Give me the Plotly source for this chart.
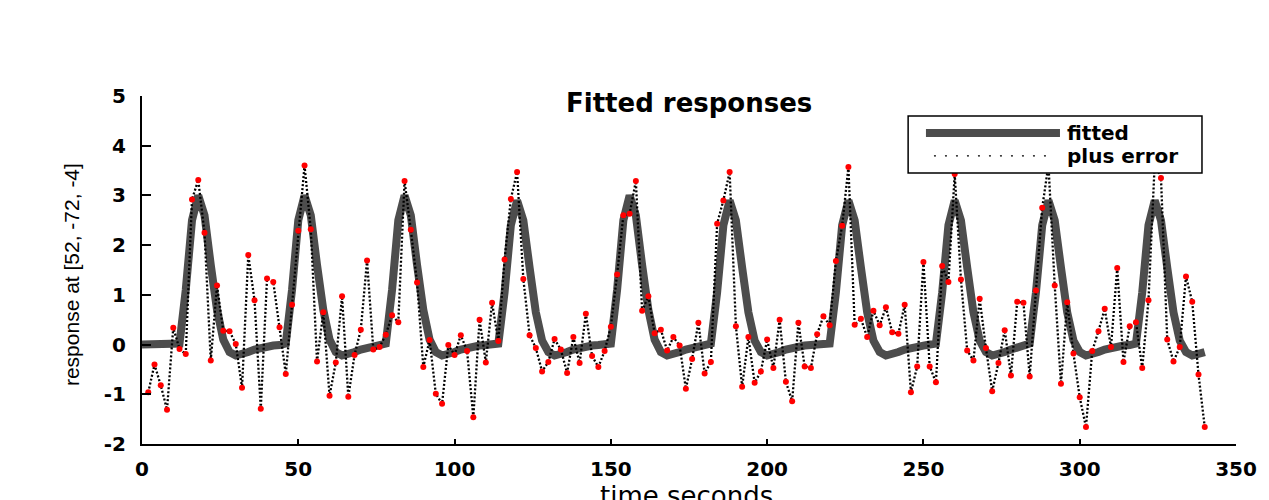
import plotly.graph_objects as go

# ---------------- data ----------------
fit_times = list(range(0, 342, 2))      # seconds
scan_times = list(range(2, 342, 2))     # seconds

fitted = [
    0, 0, 0, 0, 0, 0,
    0.02, 1.1, 2.5, 3.0, 2.6, 1.6, 0.7, 0.1,
    -0.15, -0.22, -0.2, -0.15, -0.1, -0.06, -0.03, -0.02, -0.01,
    0.02, 1.1, 2.5, 3.0, 2.6, 1.6, 0.7, 0.1,
    -0.15, -0.22, -0.2, -0.15, -0.1, -0.06, -0.04, -0.02,
    0.02, 1.1, 2.5, 3.0, 2.6, 1.6, 0.7, 0.1,
    -0.15, -0.22, -0.2, -0.15, -0.1, -0.06, -0.04, -0.02, -0.01, 0.0,
    0.02, 1.05, 2.4, 2.9, 2.5, 1.55, 0.65, 0.08,
    -0.15, -0.22, -0.2, -0.15, -0.1, -0.06, -0.04, -0.02, -0.01, 0.0,
    0.02, 1.1, 2.5, 3.0, 2.6, 1.6, 0.7, 0.1,
    -0.15, -0.22, -0.2, -0.15, -0.1, -0.06, -0.04, -0.02,
    0.02, 1.05, 2.4, 2.9, 2.5, 1.55, 0.65, 0.08,
    -0.15, -0.22, -0.2, -0.15, -0.1, -0.06, -0.04, -0.02, -0.01, 0.0, 0.0,
    0.02, 1.05, 2.4, 2.9, 2.5, 1.55, 0.65, 0.08,
    -0.15, -0.22, -0.2, -0.15, -0.1, -0.06, -0.04, -0.02, 0.0,
    0.02, 1.05, 2.4, 2.9, 2.5, 1.55, 0.65, 0.08,
    -0.15, -0.22, -0.2, -0.15, -0.1, -0.06, -0.04,
    0.02, 1.05, 2.4, 2.9, 2.5, 1.55, 0.65, 0.08,
    -0.15, -0.22, -0.2, -0.15, -0.1, -0.06, -0.04, -0.02, -0.01,
    0.02, 1.05, 2.4, 2.9, 2.5, 1.55, 0.65, 0.08,
    -0.15, -0.22, -0.2, -0.15,
]

observed = [
    -0.96, -0.40, -0.82, -1.31, 0.34, -0.09, -0.19, 2.92, 3.31, 2.25,      # 2-20
    -0.32, 1.19, 0.28, 0.27, 0.01, -0.87, 1.80, 0.89, -1.29, 1.33,         # 22-40
    1.26, 0.35, -0.59, 0.80, 2.29, 3.60, 2.32, -0.34, 0.65, -1.03,         # 42-60
    -0.36, 0.97, -1.05, -0.21, 0.30, 1.69, -0.10, -0.05, 0.20, 0.59,       # 62-80
    0.45, 3.29, 2.31, 1.25, -0.45, 0.09, -0.99, -1.19, -0.01, -0.21,       # 82-100
    0.19, -0.13, -1.46, 0.50, -0.36, 0.84, 0.07, 1.71, 2.93, 3.47,         # 102-120
    1.32, 0.19, -0.07, -0.54, -0.35, 0.11, -0.10, -0.57, 0.15, -0.37,      # 122-140
    0.62, -0.23, -0.45, -0.13, 0.36, 1.41, 2.60, 2.63, 3.29, 0.68,         # 142-160
    0.97, 0.23, 0.30, -0.12, 0.15, -0.02, -0.89, -0.29, 0.44, -0.58,       # 162-180
    -0.35, 2.43, 2.90, 3.47, 0.37, -0.85, 0.15, -0.77, -0.54, 0.10,        # 182-200
    -0.47, 0.50, -0.75, -1.14, 0.44, -0.44, -0.47, 0.21, 0.57, 0.39,       # 202-220
    1.68, 2.39, 3.57, 0.40, 0.52, 0.15, 0.68, 0.39, 0.75, 0.25,            # 222-240
    0.22, 0.80, -0.96, -0.44, 1.66, -0.44, -0.76, 1.58, 1.26, 3.43,        # 242-260
    1.31, -0.12, -0.32, 0.92, -0.07, -0.94, -0.37, 0.29, -0.62, 0.86,      # 262-280
    0.84, -0.64, 1.09, 2.75, 3.62, 1.19, -0.79, 0.85, -0.18, -1.06,        # 282-300
    -1.66, -0.13, 0.27, 0.72, -0.05, 1.54, -0.35, 0.37, 0.45, -0.47,       # 302-320
    0.89, 3.65, 3.35, 0.10, -0.34, -0.05, 1.37, 0.86, -0.60, -1.66,        # 322-340
]

x_tick_vals = [0, 50, 100, 150, 200, 250, 300, 350]
x_tick_text = ["0", "50", "100", "150", "200", "250", "300", "350"]
y_tick_vals = [-2, -1, 0, 1, 2, 3, 4, 5]
y_tick_text = ["-2", "-1", "0", "1", "2", "3", "4", "5"]

legend_labels = ["fitted", "plus error"]

# ---------------- figure ----------------
FIT_COLOR = "#4d4d4d"

fig = go.Figure()
fig.add_trace(go.Scatter(
    x=fit_times, y=fitted, mode="lines", name=legend_labels[0],
    line=dict(color=FIT_COLOR, width=8), showlegend=False, hoverinfo="skip"))
fig.add_trace(go.Scatter(
    x=scan_times, y=observed, mode="lines", name=legend_labels[1],
    line=dict(color="black", width=2.3, dash="2px,2px"), showlegend=False))
fig.add_trace(go.Scatter(
    x=scan_times, y=observed, mode="markers", name="data",
    marker=dict(color="#ff0000", size=6), showlegend=False))

tick_font = dict(family="DejaVu Sans", size=20, color="black", weight="bold")

# page body has an 8px default margin: size the figure so its plot area
# lands where the reference axes are
fig.update_layout(
    width=1261, height=492,
    margin=dict(l=134, r=25, t=88, b=56),
    paper_bgcolor="white", plot_bgcolor="white",
    xaxis=dict(range=[0, 350], showline=True, linecolor="black", linewidth=2,
               ticks="inside", ticklen=5, tickwidth=1.5, tickcolor="black",
               tickvals=x_tick_vals, ticktext=x_tick_text, tickfont=tick_font,
               showgrid=False, zeroline=False, ticklabelstandoff=6),
    yaxis=dict(range=[-2, 5], showline=True, linecolor="black", linewidth=2,
               ticks="inside", ticklen=9, tickwidth=1.5, tickcolor="black",
               tickvals=y_tick_vals, ticktext=y_tick_text, tickfont=tick_font,
               showgrid=False, zeroline=False, ticklabelstandoff=10),
    showlegend=False,
)

# manual MATLAB-style legend
box = dict(x0=0.7003, x1=0.9689, y0=0.7789, y1=0.9426)
shapes = [
    dict(type="rect", xref="paper", yref="paper", layer="above",
         line=dict(color="black", width=1.5), fillcolor="white", **box),
    dict(type="line", xref="paper", yref="paper", layer="above",
         x0=0.7166, x1=0.8391, y0=0.8938, y1=0.8938,
         line=dict(color=FIT_COLOR, width=8)),
    dict(type="line", xref="paper", yref="paper", layer="above",
         x0=0.7239, x1=0.8264, y0=0.8277, y1=0.8277,
         line=dict(color="black", width=1.2, dash="2px,9px")),
]
fig.update_layout(shapes=shapes)

legend_font = dict(family="DejaVu Sans", size=20, color="black", weight="bold")
annotations = [
    dict(text=legend_labels[0], xref="paper", yref="paper", x=0.8437, y=0.8938,
         xanchor="left", yanchor="middle", showarrow=False, font=legend_font),
    dict(text=legend_labels[1], xref="paper", yref="paper", x=0.8437, y=0.8277,
         xanchor="left", yanchor="middle", showarrow=False, font=legend_font),
    dict(text="Fitted responses", xref="paper", yref="paper", x=0.5, y=0.9785,
         xanchor="center", yanchor="middle", showarrow=False,
         font=dict(family="DejaVu Sans", size=26, color="black", weight="bold")),
    dict(text="time seconds", xref="paper", yref="paper", x=0.4977, y=-0.150,
         xanchor="center", yanchor="middle", showarrow=False,
         font=dict(family="DejaVu Sans", size=26, color="black")),
    dict(text="response at [52, -72, -4]", xref="paper", yref="paper",
         x=-0.0638, y=0.486, xanchor="center", yanchor="middle",
         textangle=-90, showarrow=False,
         font=dict(family="Liberation Sans", size=21, color="black")),
]
fig.update_layout(annotations=annotations)

fig.write_html("out.html")
